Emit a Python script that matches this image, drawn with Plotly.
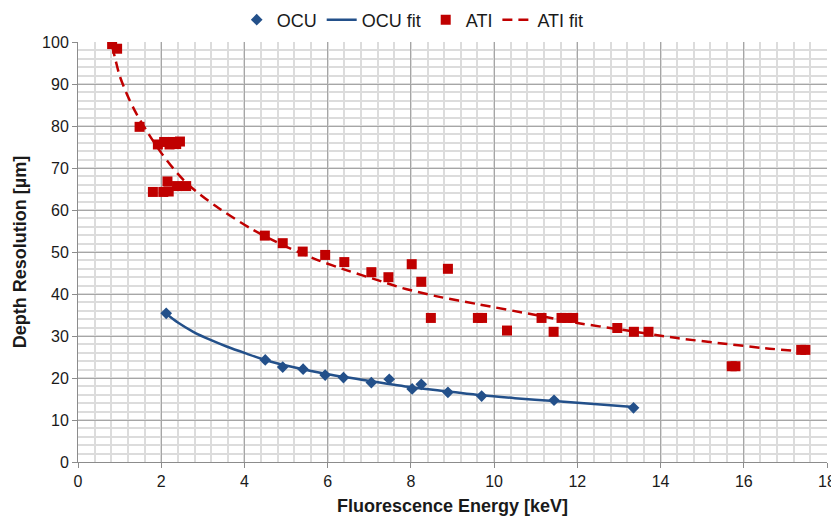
import plotly.graph_objects as go

# OCU measured points
ocu_x = [2.12, 4.50, 4.92, 5.41, 5.94, 6.38, 7.05, 7.48, 8.03, 8.25, 8.89, 9.70, 11.44, 13.35]
ocu_y = [35.4, 24.3, 22.6, 22.1, 20.7, 20.1, 18.9, 19.7, 17.4, 18.5, 16.6, 15.7, 14.7, 12.9]

# OCU fit curve
ocu_fit_x = [2.12, 2.4, 2.77, 3.2, 3.57, 4.05, 4.5, 5.16, 5.94, 7.0, 8.0, 8.9, 9.7, 10.5, 11.44, 12.4, 13.35]
ocu_fit_y = [35.3, 33.2, 31.0, 29.0, 27.5, 25.8, 24.3, 22.6, 21.0, 19.3, 17.8, 16.8, 15.9, 15.2, 14.5, 13.8, 13.1]

# ATI measured points
ati_x = [0.82, 0.94, 1.48, 1.92, 2.07, 2.20, 2.28, 2.36, 2.45, 1.80, 2.05, 2.18, 2.15, 2.38, 2.60,
         4.49, 4.92, 5.40, 5.94, 6.40, 7.05, 7.46, 8.02, 8.25, 8.89, 8.48, 9.61, 9.71, 10.31,
         11.14, 11.43, 11.62, 11.76, 11.90, 12.96, 13.36, 13.71, 15.71, 15.80, 17.38, 17.48]
ati_y = [99.5, 98.4, 79.8, 75.6, 76.2, 75.6, 76.2, 75.7, 76.3, 64.3, 64.3, 64.4, 66.8, 65.7, 65.7,
         53.9, 52.1, 50.1, 49.3, 47.6, 45.2, 44.0, 47.1, 42.9, 46.0, 34.3, 34.3, 34.3, 31.3,
         34.3, 31.0, 34.3, 34.3, 34.3, 31.9, 31.0, 31.0, 22.8, 22.8, 26.7, 26.7]

# ATI fit curve
ati_fit_x = [0.82, 0.9, 1.0, 1.2, 1.4, 1.66, 2.0, 2.4, 2.7, 3.3, 4.2, 5.0, 5.7, 6.5, 7.2, 7.8,
             8.6, 9.6, 11.0, 12.0, 13.0, 14.4, 15.6, 16.5, 17.45]
ati_fit_y = [99.0, 95.8, 92.0, 87.0, 83.0, 78.7, 73.6, 68.6, 65.6, 61.0, 55.3, 51.3, 48.3, 45.5,
             43.3, 41.4, 39.5, 37.6, 35.0, 33.1, 31.6, 29.5, 28.1, 27.1, 26.3]

x_ticks = [0, 2, 4, 6, 8, 10, 12, 14, 16, 18]
y_ticks = [0, 10, 20, 30, 40, 50, 60, 70, 80, 90, 100]

BLUE = "#23508a"
RED = "#c00000"
FONT = "Liberation Sans, Arial, Helvetica, sans-serif"

W, H = 831, 508  # page body adds an 8px margin

fig = go.Figure()
fig.add_trace(go.Scatter(x=ocu_x, y=ocu_y, mode="markers", name="OCU",
                         marker=dict(symbol="diamond", size=9, color=BLUE)))
fig.add_trace(go.Scatter(x=ocu_fit_x, y=ocu_fit_y, mode="lines", name="OCU fit",
                         line=dict(color=BLUE, width=2.5, shape="spline", smoothing=0.8)))
fig.add_trace(go.Scatter(x=ati_x, y=ati_y, mode="markers", name="ATI",
                         marker=dict(symbol="square", size=10, color=RED)))
fig.add_trace(go.Scatter(x=ati_fit_x, y=ati_fit_y, mode="lines", name="ATI fit",
                         line=dict(color=RED, width=2.5, dash="10px,6px", shape="spline", smoothing=0.8)))

fig.update_layout(
    width=W, height=H,
    margin=dict(l=70, r=12, t=34, b=54, autoexpand=False),
    paper_bgcolor="white", plot_bgcolor="white",
    font=dict(family=FONT, size=16, color="#1a1a1a"),
    showlegend=True,
    legend=dict(orientation="h", xref="container", yref="container",
                x=0.487, xanchor="center", y=1 - 12 / H, yanchor="middle",
                font=dict(size=18, color="#1a1a1a"), itemwidth=30, tracegroupgap=0,
                bgcolor="rgba(0,0,0,0)"),
    xaxis=dict(
        range=[0, 18], tickvals=x_ticks, ticktext=[str(v) for v in x_ticks],
        showgrid=True, gridcolor="#a6a6a6", gridwidth=1,
        minor=dict(dtick=0.4, tick0=0, showgrid=True, gridcolor="#dcdcdc", gridwidth=1.5),
        ticks="outside", ticklen=5, tickcolor="#8c8c8c",
        showline=True, linecolor="#8c8c8c", linewidth=1, zeroline=False, automargin=False,
        title=dict(text="<b>Fluorescence Energy [keV]</b>", font=dict(size=18), standoff=10),
        tickfont=dict(size=16),
    ),
    yaxis=dict(
        range=[0, 100], tickvals=y_ticks, ticktext=[str(v) for v in y_ticks],
        showgrid=True, gridcolor="#a6a6a6", gridwidth=1,
        minor=dict(dtick=2, tick0=0, showgrid=True, gridcolor="#dcdcdc", gridwidth=1.5),
        ticks="outside", ticklen=5, tickcolor="#8c8c8c",
        showline=True, linecolor="#8c8c8c", linewidth=1, zeroline=False, automargin=False,
        title=dict(text="<b>Depth Resolution [µm]</b>", font=dict(size=18), standoff=10),
        tickfont=dict(size=16),
    ),
)

fig.write_html("out.html")
